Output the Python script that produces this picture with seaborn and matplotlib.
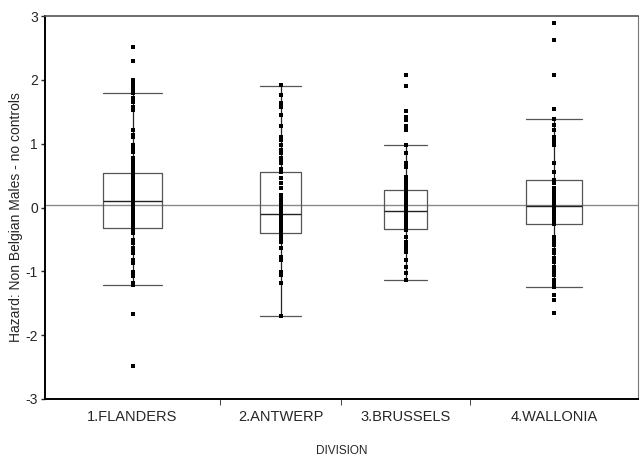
import matplotlib
matplotlib.use("Agg")
import matplotlib.pyplot as plt
import seaborn as sns
import pandas as pd

categories = ["1.FLANDERS", "2.ANTWERP", "3.BRUSSELS", "4.WALLONIA"]
group_share = [175, 121, 129, 168]  # relative group widths on x axis

flanders = [2.52, 2.29, 1.99, 1.95, 1.92, 1.87, 1.84, 1.82, 1.80, 1.71, 1.65, 1.57, 1.53,
            1.22, 1.13, 1.10, 0.98, 0.92, 0.90, 0.87, 0.77, 0.72, 0.66, 0.62, 0.58, 0.55,
            0.51, 0.47, 0.44, 0.40, 0.36, 0.33, 0.29, 0.25, 0.22, 0.18, 0.15, 0.12, 0.09,
            0.06, 0.03, -0.01, -0.05, -0.08, -0.12, -0.15, -0.19, -0.22, -0.26, -0.30,
            -0.34, -0.40, -0.51, -0.56, -0.64, -0.68, -0.72, -0.82, -0.87, -1.01, -1.08,
            -1.18, -1.21, -1.67, -2.49]
antwerp = [1.92, 1.76, 1.63, 1.57, 1.45, 1.27, 1.11, 1.05, 0.98, 0.90, 0.85, 0.78, 0.74,
           0.69, 0.61, 0.56, 0.46, 0.38, 0.30, 0.19, 0.15, 0.10, 0.06, 0.02, -0.03, -0.07,
           -0.11, -0.16, -0.20, -0.25, -0.29, -0.33, -0.37, -0.41, -0.46, -0.50, -0.54,
           -0.64, -0.77, -0.80, -0.82, -1.01, -1.06, -1.18, -1.70]
brussels = [2.07, 1.90, 1.51, 1.42, 1.37, 1.28, 1.21, 0.98, 0.85, 0.69, 0.63, 0.48, 0.42,
            0.35, 0.31, 0.27, 0.23, 0.20, 0.17, 0.10, 0.06, 0.02, -0.02, -0.06, -0.09,
            -0.13, -0.18, -0.22, -0.27, -0.31, -0.35, -0.46, -0.54, -0.58, -0.63, -0.69,
            -0.82, -0.93, -1.03, -1.14]
wallonia = [2.89, 2.63, 2.08, 1.54, 1.38, 1.29, 1.21, 1.11, 1.07, 1.03, 0.98, 0.70, 0.55,
            0.43, 0.38, 0.31, 0.25, 0.18, 0.12, 0.07, 0.02, -0.04, -0.09, -0.14, -0.20,
            -0.26, -0.46, -0.52, -0.59, -0.66, -0.72, -0.79, -0.85, -0.93, -1.00, -1.06,
            -1.13, -1.19, -1.24, -1.37, -1.45, -1.66]

whisk_lo = [-1.21, -1.70, -1.14, -1.24]
q1 = [-0.32, -0.40, -0.33, -0.26]
median = [0.10, -0.10, -0.06, 0.03]
q3 = [0.54, 0.56, 0.27, 0.43]
whisk_hi = [1.80, 1.90, 0.98, 1.38]
grand_mean = 0.04

yticks = [-3, -2, -1, 0, 1, 2, 3]

sns.set_style("white")
plt.rcParams["font.family"] = ["Liberation Sans", "DejaVu Sans"]

# x layout from group shares
bounds = [0]
for w in group_share:
    bounds.append(bounds[-1] + w)
centers = [(bounds[i] + bounds[i + 1]) / 2 for i in range(len(categories))]
box_w = [w / 3 for w in group_share]

values = [flanders, antwerp, brussels, wallonia]
rows = []
for cat, c, vals in zip(categories, centers, values):
    for v in vals:
        rows.append({"division": cat, "pos": c, "hazard": v})
df = pd.DataFrame(rows)

fig = plt.figure(figsize=(6.41, 4.59), dpi=100)
ax = fig.add_axes([45 / 641, 1 - 399 / 459, 593 / 641, 383 / 459])

stats = []
for i, cat in enumerate(categories):
    stats.append({"label": cat, "whislo": whisk_lo[i], "q1": q1[i], "med": median[i],
                  "q3": q3[i], "whishi": whisk_hi[i], "fliers": []})
ax.bxp(stats, positions=centers, widths=box_w, showfliers=False, manage_ticks=False,
       boxprops=dict(color="#555555", linewidth=0.9),
       medianprops=dict(color="#222222", linewidth=1.0),
       whiskerprops=dict(color="#222222", linewidth=0.9),
       capprops=dict(color="#555555", linewidth=0.9),
       capwidths=box_w, zorder=2)

ax.axhline(grand_mean, color="#8a8a8a", linewidth=1.0, zorder=1)

sns.scatterplot(data=df, x="pos", y="hazard", ax=ax, color="black", marker="s",
                s=5, linewidth=0, legend=False, zorder=3)

ax.set_xlim(bounds[0], bounds[-1])
ax.set_ylim(-3, 3)
ax.set_yticks(yticks)
ax.set_yticklabels([str(t) for t in yticks], fontsize=10)
ax.set_xticks(centers)
ax.set_xticklabels(categories, fontsize=10.5)
ax.tick_params(axis="x", length=0, pad=8)
ax.tick_params(axis="y", length=3, width=1, direction="out", left=True, pad=2)
ax.set_xticks(bounds[1:-1], minor=True)
ax.tick_params(axis="x", which="minor", length=4, direction="out", bottom=True)

ax.set_xlabel("DIVISION", fontsize=8.5, labelpad=15)
ax.set_ylabel("Hazard: Non Belgian Males - no controls", fontsize=10)
ax.yaxis.set_label_coords(-0.037, 0.475)

for side in ["left", "bottom"]:
    ax.spines[side].set_color("black")
    ax.spines[side].set_linewidth(1.4)
ax.spines["top"].set_color("#555555")
ax.spines["top"].set_linewidth(1.2)
ax.spines["right"].set_color("#777777")
ax.spines["right"].set_linewidth(0.8)

fig.savefig("out.png", dpi=100)
